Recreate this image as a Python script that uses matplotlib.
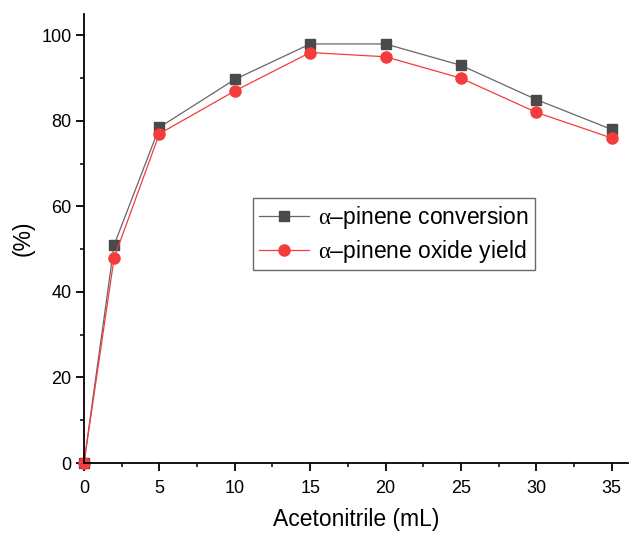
import numpy as np
import matplotlib
matplotlib.use('Agg')
import matplotlib.pyplot as plt
from matplotlib.ticker import MultipleLocator

volume = [0, 2, 5, 10, 15, 20, 25, 30, 35]
conversion = [0, 51, 78.5, 89.7, 98, 98, 93, 85, 78]
oxide_yield = [0, 48, 77, 87, 96, 95, 90, 82, 76]

plt.rcParams['font.family'] = ['Liberation Sans', 'DejaVu Sans']
# upright serif alpha like the original
plt.rcParams['mathtext.fontset'] = 'custom'
plt.rcParams['mathtext.rm'] = 'Liberation Serif'
plt.rcParams['mathtext.it'] = 'Liberation Serif'

fig = plt.figure(figsize=(6.3, 5.33), dpi=100)
ax = fig.add_axes([0.1333, 0.1313, 0.864, 0.8424])

ax.plot(volume, conversion, color='#666666', lw=0.9, marker='s', ms=7.2,
        mfc='#4a4a4a', mec='#4a4a4a', label=r'$\alpha$' + u'\u2013pinene conversion', clip_on=False)
ax.plot(volume, oxide_yield, color='#f43c3c', lw=0.9, marker='o', ms=8,
        mfc='#f43c3c', mec='#f43c3c', label=r'$\alpha$' + u'\u2013pinene oxide yield', clip_on=False)

ax.set_xlim(0, 36.1)
ax.set_ylim(0, 105)
ax.xaxis.set_major_locator(MultipleLocator(5))
ax.xaxis.set_minor_locator(MultipleLocator(2.5))
ax.yaxis.set_major_locator(MultipleLocator(20))
ax.yaxis.set_minor_locator(MultipleLocator(10))

ax.spines['top'].set_visible(False)
ax.spines['right'].set_visible(False)
ax.spines['left'].set_linewidth(1.3)
ax.spines['bottom'].set_linewidth(1.3)
ax.tick_params(which='major', direction='out', length=6, width=1.3, labelsize=13)
ax.tick_params(axis='x', which='major', pad=6.5)
ax.tick_params(axis='y', which='major', pad=3)
ax.tick_params(which='minor', direction='out', length=3, width=1.1)

ax.set_xlabel('Acetonitrile (mL)', fontsize=16.5, labelpad=8)
ax.set_ylabel('(%)', fontsize=16.5, labelpad=5)

leg = ax.legend(loc='upper left', bbox_to_anchor=(0.3107, 0.590), borderaxespad=0,
                fontsize=16.5, frameon=True, fancybox=False, edgecolor='#444444',
                handlelength=2.2, handletextpad=0.4, borderpad=0.25, labelspacing=0.3)
leg.get_frame().set_linewidth(1.0)

fig.savefig('out.png', dpi=100)
